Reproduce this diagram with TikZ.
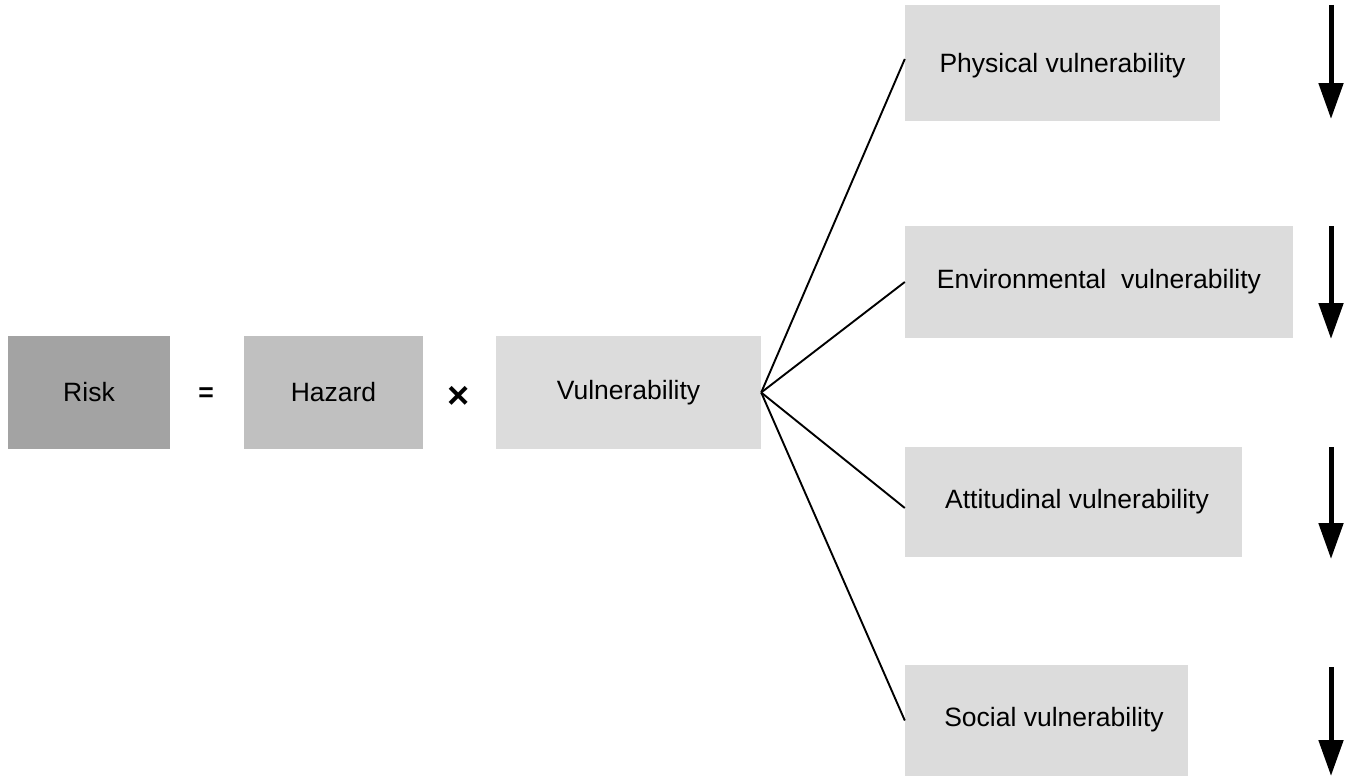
\documentclass[tikz,border=0pt]{standalone}
\usepackage{fontspec}
\setmainfont{Liberation Sans}
\usetikzlibrary{arrows.meta}
\definecolor{riskgray}{HTML}{A3A3A3}
\definecolor{hazgray}{HTML}{C0C0C0}
\definecolor{vulgray}{HTML}{DCDCDC}
\begin{document}
\begin{tikzpicture}[x=1pt,y=1pt,
  box/.style={rectangle, inner sep=0pt, draw=none, font=\fontsize{26.5}{30}\selectfont},
  op/.style={inner sep=0pt, font=\fontsize{26.5}{30}\selectfont\bfseries},
  fan/.style={line width=1.9pt},
  down/.style={line width=5pt, -{Triangle[width=24pt,length=36pt]}}
]
\useasboundingbox (0,0) rectangle (1349,-776);
\node[box, fill=riskgray, minimum width=162pt, minimum height=113pt] (risk) at (89,-392.5) {Risk};
\node[op] (eq) at (206,-395) {=};
\node[op, font=\fontsize{38}{40}\selectfont\bfseries] (times) at (459,-397) {×};
\node[box, fill=hazgray, minimum width=179pt, minimum height=113pt] (haz) at (333.5,-392.5) {Hazard};
\node[box, fill=vulgray, minimum width=265pt, minimum height=113pt] (vul) at (628.5,-392.5) {Vulnerability};

\node[box, fill=vulgray, minimum width=315pt, minimum height=116pt] (phys) at (1062.5,-63) {};
\node[box] (physt) at (1062.5,-66) {Physical vulnerability};
\node[box, fill=vulgray, minimum width=388pt, minimum height=112pt] (env) at (1099,-282) {Environmental\ \ vulnerability};
\node[box, fill=vulgray, minimum width=337pt, minimum height=110pt] (att) at (1073.5,-502) {};
\node[box] (attt) at (1077,-502) {Attitudinal vulnerability};
\node[box, fill=vulgray, minimum width=283pt, minimum height=111pt] (soc) at (1046.5,-720.5) {};
\node[box] (soct) at (1054,-720) {Social vulnerability};

\draw[fan] (vul.east) -- ([yshift=4pt]phys.west);
\draw[fan] (vul.east) -- (env.west);
\draw[fan] (vul.east) -- ([yshift=-6pt]att.west);
\draw[fan] (vul.east) -- (soc.west);

\coordinate (a1s) at (1331,-5);   \coordinate (a1e) at (1331,-119);
\coordinate (a2s) at (1331,-226); \coordinate (a2e) at (1331,-339);
\coordinate (a3s) at (1331,-447); \coordinate (a3e) at (1331,-559);
\coordinate (a4s) at (1331,-667); \coordinate (a4e) at (1331,-776);
\draw[down] (a1s) -- (a1e);
\draw[down] (a2s) -- (a2e);
\draw[down] (a3s) -- (a3e);
\draw[down] (a4s) -- (a4e);
\end{tikzpicture}
\end{document}
